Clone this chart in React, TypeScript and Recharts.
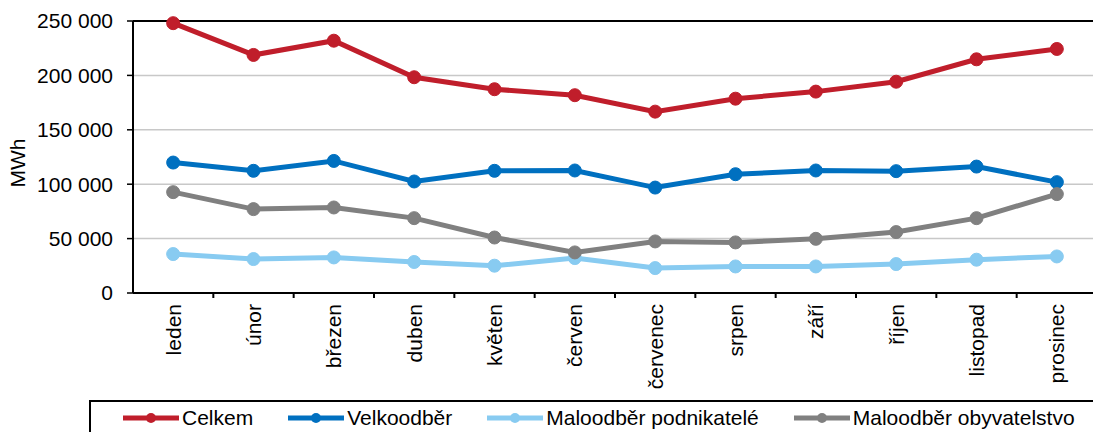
import React from 'react';
import {
  LineChart,
  Line,
  XAxis,
  YAxis,
  CartesianGrid,
  ReferenceLine,
} from 'recharts';

const months = ['leden', 'únor', 'březen', 'duben', 'květen', 'červen', 'červenec', 'srpen', 'září', 'říjen', 'listopad', 'prosinec'];
const celkem = [248000, 218800, 231900, 198300, 187300, 181800, 166700, 178600, 185100, 194200, 214800, 224300];
const velkoodber = [119900, 112300, 121400, 102500, 112300, 112600, 96900, 109200, 112600, 112000, 116200, 101900];
const podnikatele = [35800, 31200, 32700, 28500, 25100, 32100, 22900, 24400, 24400, 26600, 30600, 33600];
const obyvatelstvo = [92700, 77100, 78600, 68800, 51000, 37300, 47400, 46500, 49800, 56000, 68800, 90900];
const yTicks = [0, 50000, 100000, 150000, 200000, 250000];

const seriesNames = ['Celkem', 'Velkoodběr', 'Maloodběr podnikatelé', 'Maloodběr obyvatelstvo'];
const seriesKeys = ['celkem', 'velkoodber', 'podnikatele', 'obyvatelstvo'];
const seriesColors = ['#c01e2b', '#0070c0', '#88cbf1', '#808080'];

const data = months.map((m, i) => ({
  month: m,
  celkem: celkem[i],
  velkoodber: velkoodber[i],
  podnikatele: podnikatele[i],
  obyvatelstvo: obyvatelstvo[i],
}));

const FONT = '"Liberation Sans", Arial, sans-serif';
const CHART_W = 1110;
const CHART_H = 432;
const PLOT_LEFT = 133;
const PLOT_RIGHT = 1097;
const BAND = (PLOT_RIGHT - PLOT_LEFT) / months.length;

const fmt = (v: number) => String(v).replace(/\B(?=(\d{3})+(?!\d))/g, ' ');

const MonthTick = (props: any) => {
  const { x, y, payload } = props;
  const tx = x + BAND / 2;
  return (
    <g>
      <line x1={tx} y1={y} x2={tx} y2={y + 5} stroke="#000" strokeWidth={2} />
      <text
        x={-(y + 11)}
        y={x}
        transform="rotate(-90)"
        textAnchor="end"
        dy="0.36em"
        fontSize={21}
        fontFamily={FONT}
        fill="#000"
      >
        {payload.value}
      </text>
    </g>
  );
};

const UnitLabel = (props: any) => {
  const vb = props.viewBox || { x: 0, y: 21, height: 272 };
  const cx = vb.x + 17;
  const cy = vb.y + vb.height / 2 + 6;
  return (
    <text
      x={cx}
      y={cy}
      transform={`rotate(-90 ${cx} ${cy})`}
      textAnchor="middle"
      dominantBaseline="central"
      fontSize={21}
      fontFamily={FONT}
      fill="#000"
    >
      MWh
    </text>
  );
};

const LegendBox = () => (
  <div
    style={{
      position: 'absolute',
      left: 89,
      top: 400,
      width: 1100,
      height: 44,
      border: '2px solid #000',
      boxSizing: 'border-box',
      display: 'flex',
      alignItems: 'flex-start',
      paddingLeft: 32,
      paddingTop: 4,
      gap: 35,
      fontFamily: FONT,
      fontSize: 21,
      lineHeight: '24px',
      color: '#000',
      background: '#fff',
    }}
  >
    {seriesNames.map((name, i) => (
      <div key={name} style={{ display: 'flex', alignItems: 'center', height: 24, whiteSpace: 'nowrap' }}>
        <svg width={56} height={14} style={{ marginRight: 3 }}>
          <line x1={0} y1={7} x2={56} y2={7} stroke={seriesColors[i]} strokeWidth={5} />
          <circle cx={28} cy={7} r={5} fill={seriesColors[i]} />
        </svg>
        <span>{name}</span>
      </div>
    ))}
  </div>
);

export default function App() {
  return (
    <div
      style={{
        position: 'absolute',
        left: 0,
        top: 0,
        width: 1093,
        height: 432,
        overflow: 'hidden',
        background: '#fff',
      }}
    >
      <LineChart
        width={CHART_W}
        height={CHART_H}
        data={data}
        margin={{ top: 21, right: CHART_W - PLOT_RIGHT, left: 0, bottom: 0 }}
      >
        <CartesianGrid vertical={false} stroke="#c8c8c8" strokeWidth={1.5} />
        <XAxis
          dataKey="month"
          scale="band"
          height={139}
          interval={0}
          axisLine={{ stroke: '#000', strokeWidth: 2 }}
          tickLine={false}
          tickSize={0}
          tickMargin={0}
          tick={<MonthTick />}
        />
        <YAxis
          width={PLOT_LEFT}
          domain={[0, 250000]}
          ticks={yTicks}
          tickFormatter={fmt}
          axisLine={{ stroke: '#000', strokeWidth: 2 }}
          tickLine={{ stroke: '#000', strokeWidth: 1.5 }}
          tickSize={6}
          tickMargin={14}
          tick={{ fill: '#000', fontSize: 21, fontFamily: FONT }}
          label={<UnitLabel />}
        />
        <ReferenceLine y={250000} stroke="#000" strokeWidth={2} />
        {seriesKeys.map((k, i) => (
          <Line
            key={k}
            dataKey={k}
            name={seriesNames[i]}
            stroke={seriesColors[i]}
            strokeWidth={5}
            dot={{ r: 6.5, fill: seriesColors[i], stroke: seriesColors[i], strokeWidth: 1 }}
            isAnimationActive={false}
          />
        ))}
      </LineChart>
      <LegendBox />
    </div>
  );
}
